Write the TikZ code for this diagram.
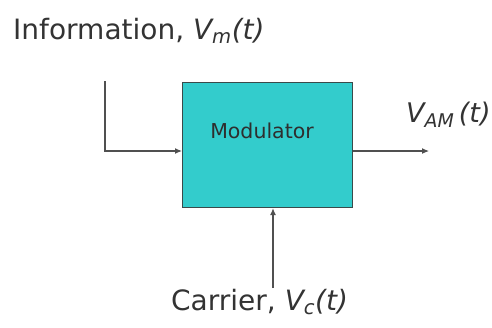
\documentclass[tikz,border=0pt]{standalone}
\usepackage{fontspec}
\setmainfont{DejaVu Sans}
\usetikzlibrary{arrows.meta}
\definecolor{boxfill}{HTML}{33CCCC}
\definecolor{boxline}{HTML}{3A4A4A}
\definecolor{wire}{HTML}{505050}
\definecolor{txt}{HTML}{333333}
\begin{document}
\begin{tikzpicture}[x=1pt,y=-1pt,
  modbox/.style={draw=boxline,line width=1.2pt,fill=boxfill,minimum width=170pt,minimum height=125pt,inner sep=0pt,anchor=north west},
  wireline/.style={draw=wire,line width=1.1pt,-{Latex[length=7pt,width=6pt]}},
  lbl/.style={text=txt,inner sep=0pt,font=\fontsize{28}{31}\selectfont},
  lblsmall/.style={text=txt,inner sep=0pt,font=\fontsize{27}{30}\selectfont}]
\useasboundingbox (0,0) rectangle (492,327);
\node[modbox] (mod) at (182,82) {};
\node[text=txt!90!black,inner sep=0pt,font=\fontsize{20.5}{24}\selectfont] (modtxt) at (262,131) {Modulator};
\coordinate (infoStart) at (105,81);
\coordinate (infoCorner) at (105,151);
\coordinate (outEnd) at (429,151);
\coordinate (carStart) at (273,288);
\draw[wireline] (infoStart) -- (infoCorner) -- (infoCorner -| mod.west);
\draw[wireline] (mod.east |- outEnd) -- (outEnd);
\draw[wireline] (carStart) -- (carStart |- mod.south);
\node[lbl,anchor=west] (info) at (13,31) {Information, \textit{V\textsubscript{m}(t)}};
\node[lblsmall,anchor=west] (vam) at (406,115) {\textit{V\textsubscript{AM}\,(t)}};
\node[lbl,anchor=west] (car) at (171,302) {Carrier, \textit{V\textsubscript{c}(t)}};
\end{tikzpicture}
\end{document}
